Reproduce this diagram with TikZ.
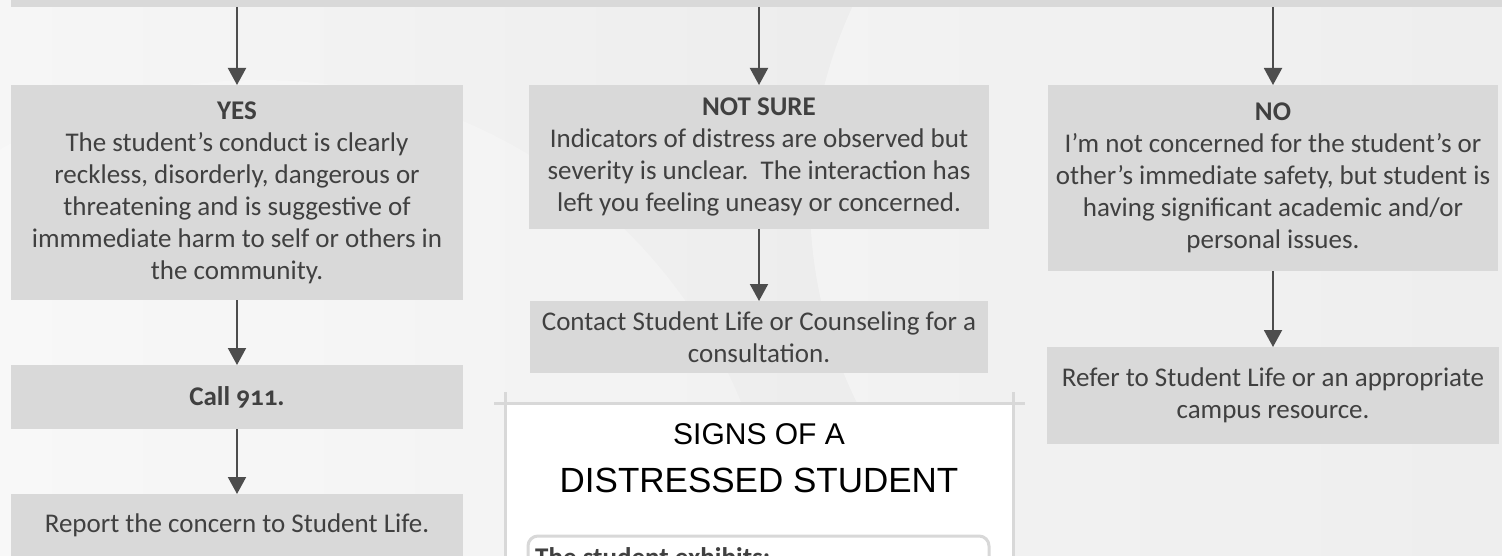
\documentclass[tikz,border=0pt]{standalone}
\usepackage{fontspec}
\setmainfont{Carlito}[Numbers=OldStyle]
\newfontfamily\headfont{Liberation Sans}
\usetikzlibrary{arrows.meta}
\definecolor{boxgray}{HTML}{D9D9D9}
\definecolor{inkgray}{HTML}{404040}
\definecolor{arrowgray}{HTML}{4D4D4D}
\definecolor{framegray}{HTML}{D8D8D8}
\tikzstyle{box}=[fill=boxgray, text=inkgray, align=center, inner sep=0pt, outer sep=0pt, font=\fontsize{27}{32}\selectfont]
\tikzstyle{arrow}=[draw=arrowgray, line width=2pt, >={Triangle[length=17pt, width=18pt]}]
\begin{document}
\begin{tikzpicture}[x=1pt, y=-1pt]
		   \useasboundingbox (0,0) rectangle (1502,556);
		   % background
		   \shade[left color=gray!7, right color=gray!20] (0,0) rectangle (1502,556);
		   \fill[white, opacity=0.35] (1270,200) circle (460);
		   \fill[white, opacity=0.25] (260,600) circle (520);

		   \node[box, minimum width=1492, minimum height=24] (top) at (757,-5) {};

		   % left column
		   \node[box, minimum width=452, minimum height=215] (yes) at (237,192.5) {
			   \textbf{YES}\\
			   The student’s conduct is clearly\\
			   reckless, disorderly, dangerous or\\
			   threatening and is suggestive of\\
			   immmediate harm to self or others in\\
			   the community.
		   };
		   \node[box, minimum width=452, minimum height=64] (call) at (237,397) {\textbf{Call 911.}};
		   \node[box, minimum width=452, minimum height=62] (rep) at (237,525) {Report the concern to Student Life.};

		   % middle column
		   \node[box, minimum width=460, minimum height=144] (ns) at (759,157) {
			   \textbf{NOT SURE}\\
			   Indicators of distress are observed but\\
			   severity is unclear.\ \ The interaction has\\
			   left you feeling uneasy or concerned.
		   };
		   \node[box, minimum width=458, minimum height=72] (cont) at (759,337) {
			   Contact Student Life or Counseling for a\\
			   consultation.
		   };

		   % right column
		   \node[box, minimum width=450, minimum height=186] (no) at (1273,178) {
			   \textbf{NO}\\
			   I’m not concerned for the student’s or\\
			   other’s immediate safety, but student is\\
			   having significant academic and/or\\
			   personal issues.
		   };
		   \node[box, minimum width=452, minimum height=97] (ref) at (1273,395.5) {
			   Refer to Student Life or an appropriate\\
			   campus resource.
		   };

		   % arrows
		   \draw[arrow, ->] (yes.north |- top.south) -- (yes.north);
		   \draw[arrow, ->] (ns.north |- top.south) -- (ns.north);
		   \draw[arrow, ->] (no.north |- top.south) -- (no.north);
		   \draw[arrow, ->] (yes) -- (call);
		   \draw[arrow, ->] (call) -- (rep);
		   \draw[arrow, ->] (ns) -- (cont);
		   \draw[arrow, ->] (no) -- (ref);

		   % signs panel
		   \fill[white] (505,403) rectangle (1013,560);
		   \draw[framegray, line width=3pt] (494,403) -- (1025,403);
		   \draw[framegray, line width=3pt] (505,392) -- (505,560);
		   \draw[framegray, line width=3pt] (1013,392) -- (1013,560);
		   \node[font=\headfont\fontsize{30}{34}\selectfont] (signs) at (759,434) {SIGNS OF A};
		   \node[font=\headfont\fontsize{35}{40}\selectfont] (dist) at (759,480) {DISTRESSED STUDENT};
		   \draw[framegray, fill=white, line width=3pt, rounded corners=10pt] (528,536) rectangle (989,600);
		   \node[anchor=base west, text=inkgray, inner sep=0pt, font=\fontsize{27}{32}\selectfont\bfseries] (exh) at (535,566) {The student exhibits:};
	   \end{tikzpicture}
\end{document}
